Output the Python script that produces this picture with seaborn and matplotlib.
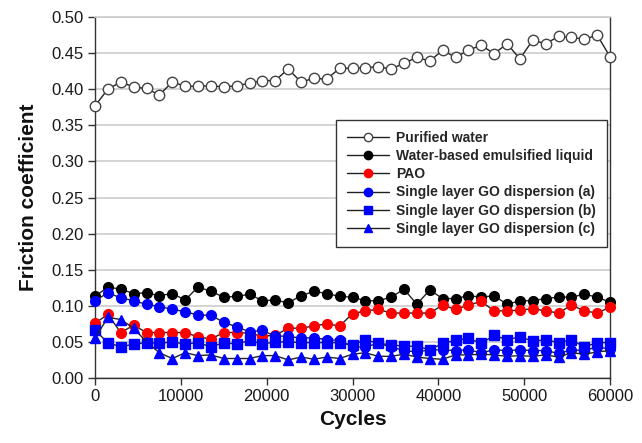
import numpy as np
import pandas as pd
import matplotlib
matplotlib.use("Agg")
import matplotlib.pyplot as plt
import seaborn as sns

# Sliding cycles (one reading every 1500 cycles)
cycles = list(range(0, 60001, 1500))

purified_water = [0.377, 0.400, 0.410, 0.403, 0.401, 0.392, 0.410, 0.404, 0.404, 0.405,
                  0.403, 0.405, 0.408, 0.412, 0.412, 0.428, 0.410, 0.415, 0.414, 0.429,
                  0.429, 0.430, 0.431, 0.428, 0.436, 0.444, 0.439, 0.454, 0.444, 0.454,
                  0.461, 0.449, 0.463, 0.442, 0.468, 0.463, 0.473, 0.472, 0.469, 0.475,
                  0.445]

emulsified_liquid = [0.113, 0.126, 0.123, 0.117, 0.118, 0.114, 0.117, 0.108, 0.126, 0.120,
                     0.112, 0.113, 0.116, 0.107, 0.108, 0.104, 0.114, 0.120, 0.117, 0.113,
                     0.112, 0.107, 0.107, 0.112, 0.123, 0.102, 0.122, 0.110, 0.110, 0.114,
                     0.112, 0.114, 0.102, 0.107, 0.107, 0.110, 0.112, 0.112, 0.116, 0.112,
                     0.105]

pao = [0.076, 0.088, 0.063, 0.073, 0.063, 0.063, 0.063, 0.063, 0.057, 0.054,
       0.063, 0.063, 0.062, 0.058, 0.059, 0.069, 0.069, 0.072, 0.075, 0.072,
       0.089, 0.093, 0.095, 0.090, 0.090, 0.090, 0.090, 0.101, 0.095, 0.101,
       0.106, 0.093, 0.093, 0.094, 0.096, 0.093, 0.090, 0.101, 0.093, 0.090,
       0.098]

go_a = [0.107, 0.118, 0.111, 0.107, 0.102, 0.099, 0.095, 0.092, 0.087, 0.087,
        0.077, 0.071, 0.064, 0.066, 0.058, 0.058, 0.055, 0.056, 0.053, 0.052,
        0.043, 0.043, 0.048, 0.043, 0.038, 0.036, 0.039, 0.039, 0.038, 0.039,
        0.035, 0.039, 0.038, 0.039, 0.038, 0.038, 0.034, 0.039, 0.038, 0.043,
        0.040]

go_b = [0.066, 0.049, 0.043, 0.047, 0.049, 0.048, 0.050, 0.047, 0.049, 0.043,
        0.049, 0.047, 0.052, 0.047, 0.050, 0.050, 0.049, 0.049, 0.049, 0.049,
        0.046, 0.053, 0.048, 0.046, 0.044, 0.044, 0.039, 0.048, 0.052, 0.055,
        0.048, 0.059, 0.053, 0.057, 0.051, 0.053, 0.049, 0.053, 0.043, 0.049,
        0.049]

go_c = [0.055, 0.084, 0.081, 0.069, 0.050, 0.035, 0.027, 0.035, 0.031, 0.032,
        0.027, 0.027, 0.027, 0.031, 0.031, 0.025, 0.029, 0.026, 0.029, 0.027,
        0.033, 0.035, 0.030, 0.030, 0.033, 0.029, 0.027, 0.026, 0.032, 0.032,
        0.033, 0.032, 0.030, 0.031, 0.030, 0.032, 0.029, 0.035, 0.033, 0.036,
        0.038]

labels = ["Purified water", "Water-based emulsified liquid", "PAO",
          "Single layer GO dispersion (a)", "Single layer GO dispersion (b)",
          "Single layer GO dispersion (c)"]
series = [purified_water, emulsified_liquid, pao, go_a, go_b, go_c]
face_colors = ["white", "black", "#ff0000", "#0000ff", "#0000ff", "#0000ff"]
edge_colors = ["#444444", "black", "#ff0000", "#0000ff", "#0000ff", "#0000ff"]
markers = ["o", "o", "o", "o", "s", "^"]
marker_sizes = [7.5, 7, 7, 7, 6.5, 7]

sns.set_theme(style="white")
plt.rcParams["font.family"] = ["Liberation Sans", "DejaVu Sans"]

fig = plt.figure(figsize=(6.42, 4.43), dpi=100)
ax = fig.add_axes([95 / 642, 1 - 378 / 443, 515 / 642, 361 / 443])

for vals, lab, fc, ec, mk, ms in zip(series, labels, face_colors, edge_colors,
                                     markers, marker_sizes):
    df = pd.DataFrame({"Cycles": cycles, "Friction": vals})
    sns.lineplot(data=df, x="Cycles", y="Friction", ax=ax, color="#222222",
                 linewidth=1.0, marker=mk, markersize=ms, markerfacecolor=fc,
                 markeredgecolor=ec, markeredgewidth=1.0, label=lab,
                 clip_on=False, zorder=3)

ax.set_xlim(0, 60000)
ax.set_ylim(0, 0.5)
ax.set_xticks(np.arange(0, 60001, 10000))
ax.set_yticks(np.arange(0, 0.501, 0.05))
ax.set_yticklabels([f"{v:.2f}" for v in np.arange(0, 0.501, 0.05)])
ax.yaxis.grid(True, color="#cccccc", linewidth=1.2)
ax.xaxis.grid(False)
ax.set_axisbelow(True)

for side in ["left", "bottom", "right"]:
    ax.spines[side].set_color("#333333")
    ax.spines[side].set_linewidth(1.0)
ax.spines["top"].set_color("#cccccc")
ax.spines["top"].set_linewidth(1.2)

ax.tick_params(axis="both", which="major", direction="out", length=5, width=1,
               color="#333333", labelsize=12, labelcolor="#1a1a1a", pad=3)
ax.tick_params(axis="x", bottom=True, top=False)
ax.tick_params(axis="y", left=True, right=False)

ax.set_xlabel("Cycles", fontsize=15, fontweight="bold", labelpad=4, color="#111111")
ax.set_ylabel("Friction coefficient", fontsize=15, fontweight="bold", labelpad=10,
              color="#111111")

leg = ax.legend(loc="upper right", bbox_to_anchor=(0.994, 0.715), borderaxespad=0,
                frameon=True, fancybox=False, edgecolor="#333333", framealpha=1,
                prop={"weight": "bold", "size": 10}, handlelength=3.0,
                handletextpad=0.5, labelspacing=0.3, borderpad=0.8)
leg.get_frame().set_linewidth(1.0)
leg.set_zorder(5)
for h in leg.legend_handles:
    h.set_markersize(6)

fig.savefig("out.png", dpi=100)
